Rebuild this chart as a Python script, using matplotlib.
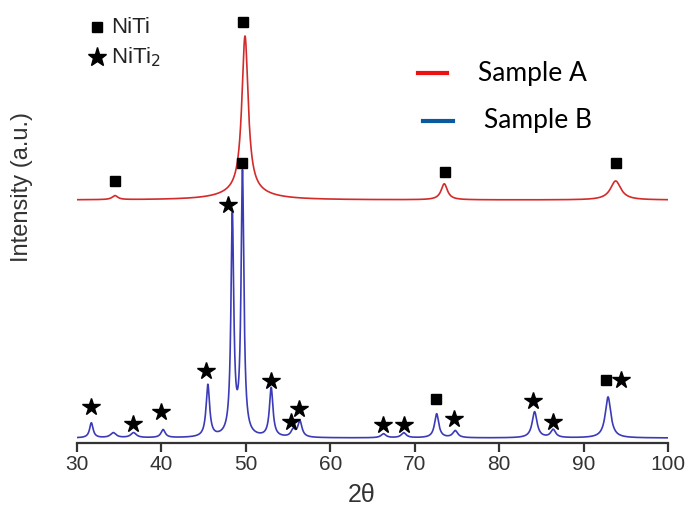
import numpy as np
import matplotlib
matplotlib.use("Agg")
import matplotlib.pyplot as plt
from matplotlib.lines import Line2D

# ---- data (2theta in degrees, intensity in arbitrary units) ----
two_theta_range = [30, 100]
x_ticks = [30, 40, 50, 60, 70, 80, 90, 100]

# Sample B (blue, lower trace): baseline and peaks (position, height, half-width)
b_baseline = 5
b_pos = [31.7, 34.3, 36.7, 40.2, 45.5, 48.4, 49.6, 53.0, 55.6, 56.4, 66.3, 68.7, 72.6, 74.8, 84.2, 86.4, 92.9]
b_height = [15, 5, 5, 8, 52, 218, 262, 49, 7, 16, 4, 5, 24, 7, 26, 8, 41]
b_width = [0.25, 0.4, 0.4, 0.3, 0.25, 0.2, 0.2, 0.25, 0.3, 0.3, 0.35, 0.35, 0.3, 0.35, 0.35, 0.35, 0.4]

# Sample A (red, upper trace)
a_baseline = 243
a_pos = [34.5, 49.9, 49.9, 73.5, 93.8]
a_height = [4, 156, 8, 16, 19]
a_width = [0.4, 0.45, 3.0, 0.45, 0.75]

# phase markers (2theta, intensity)
niti_x = [34.5, 49.7, 49.6, 73.6, 93.8, 72.5, 92.6]
niti_y = [262, 421, 280, 271, 280, 44, 63]
niti2_x = [31.7, 36.6, 40.0, 45.3, 47.9, 53.0, 55.35, 56.3, 66.2, 68.7, 74.65, 84.0, 86.4, 94.4]
niti2_y = [36, 19, 31, 72, 238, 62, 21, 34, 18, 18, 24, 42, 21, 63]

series_labels = ["Sample A", "Sample B"]
phase_labels = ["NiTi", "NiTi$_2$"]


def profile(x, base, pos, h, w):
    y = np.full_like(x, float(base))
    for p, hh, ww in zip(pos, h, w):
        y += hh / (1.0 + ((x - p) / ww) ** 2)
    return y


W, H = 686, 516
fig = plt.figure(figsize=(W / 100, H / 100), dpi=100)
ax = fig.add_axes([77 / W, 1 - 443 / H, (668 - 77) / W, (443 - 8) / H])

x = np.linspace(two_theta_range[0], two_theta_range[1], 7001)
yb = profile(x, b_baseline, b_pos, b_height, b_width)
ya = profile(x, a_baseline, a_pos, a_height, a_width)

blue = "#3b3bb8"
red = "#d42a2a"
ax.plot(x, yb, color=blue, lw=1.2, zorder=2)
ax.plot(x, ya, color=red, lw=1.2, zorder=3)

ax.plot(niti_x, niti_y, ls="none", marker="s", ms=7, color="black", zorder=5)
ax.plot(niti2_x, niti2_y, ls="none", marker="*", ms=13, color="black", zorder=5)

ax.set_xlim(two_theta_range)
ax.set_ylim(0, 435)
ax.set_xticks(x_ticks)
ax.set_yticks([])
for s in ["top", "right", "left"]:
    ax.spines[s].set_visible(False)
ax.spines["bottom"].set_linewidth(1.6)
ax.spines["bottom"].set_color("#333333")
ax.tick_params(axis="x", direction="out", length=6.5, width=1.6, labelsize=15,
               colors="#333333", labelcolor="#333333", pad=2)
for lab in ax.get_xticklabels():
    lab.set_family(["Liberation Sans Narrow", "Liberation Sans"])
ax.patch.set_alpha(0)

# axis labels
fig.text(362 / W, 1 - 502 / H, "2θ", fontsize=18, family="Liberation Sans",
         color="#333333", ha="center", va="baseline")
fig.text(22 / W, 1 - 187 / H, "Intensity (a.u.)", fontsize=17,
         family=["Liberation Sans Narrow", "Liberation Sans"],
         color="#333333", rotation=90, ha="center", va="center")

# phase key (top left)
fig.add_artist(Line2D([97 / W], [1 - 27 / H], marker="s", ms=7, color="black", ls="none",
                      transform=fig.transFigure))
fig.text(111 / W, 1 - 33 / H, phase_labels[0], fontsize=16, family="Liberation Sans",
         color="#222222", va="baseline", ha="left")
fig.add_artist(Line2D([97 / W], [1 - 57 / H], marker="*", ms=14, color="black", ls="none",
                      transform=fig.transFigure))
fig.text(111 / W, 1 - 63 / H, phase_labels[1], fontsize=16, family="Liberation Sans",
         color="#222222", va="baseline", ha="left")

# sample key
fig.add_artist(Line2D([418 / W, 447 / W], [1 - 73 / H, 1 - 73 / H], color="#ee1111", lw=3,
                      transform=fig.transFigure))
fig.text(478 / W, 1 - 81 / H, series_labels[0], fontsize=19, family="Lato",
         color="black", va="baseline", ha="left")
fig.add_artist(Line2D([423 / W, 453 / W], [1 - 121 / H, 1 - 121 / H], color="#0b5aa0", lw=3,
                      transform=fig.transFigure))
fig.text(484 / W, 1 - 128 / H, series_labels[1], fontsize=19, family="Lato",
         color="black", va="baseline", ha="left")

fig.savefig("out.png", dpi=100)
